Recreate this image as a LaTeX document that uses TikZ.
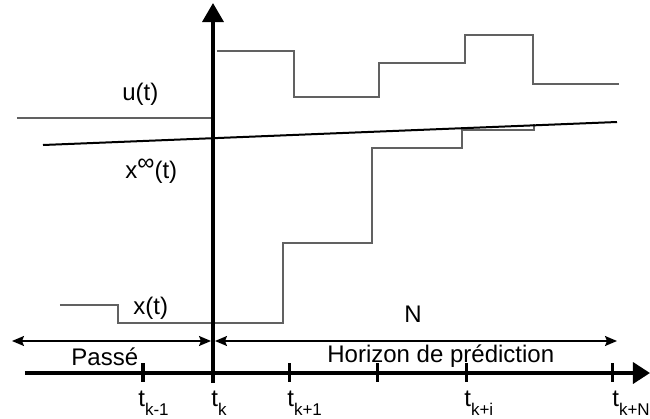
\documentclass[tikz,border=0pt]{standalone}
\usepackage{fontspec}
\setmainfont{Liberation Sans}
\usetikzlibrary{arrows.meta}
\newcommand\tsubx[1]{t\raisebox{-0.38em}{\fontsize{8.5}{9}\selectfont #1}}
\begin{document}
\begin{tikzpicture}[x=0.5pt,y=-0.5pt,
  axisline/.style={line width=1.75pt, black},
  tickmark/.style={line width=1.5pt, black},
  sig/.style={line width=0.6pt, black!62},
  refline/.style={line width=1pt, black},
  spanarrow/.style={line width=0.75pt, {Stealth[length=6pt,width=5pt,inset=1pt]}-{Stealth[length=6pt,width=5pt,inset=1pt]}},
  lbl/.style={font=\fontsize{12}{14}\selectfont, inner sep=0pt, anchor=base west},
]
\useasboundingbox (0,0) rectangle (650,419);

% signals
\draw[sig] (17,118) -- (213,118);
\draw[sig] (217,51) -- (294,51) -- (294,97) -- (379,97) -- (379,63) -- (465,63) -- (465,35) -- (533,35) -- (533,84) -- (619,84);
\draw[sig] (60,305) -- (118,305) -- (118,323) -- (283,323) -- (283,243) -- (372,243) -- (372,148) -- (462,148) -- (462,130) -- (534,130) -- (534,124);
\coordinate (xinfA) at (43,145);
\coordinate (xinfB) at (617,122);
\draw[refline] (xinfA) -- (xinfB);

% labels
\node[lbl] (ulbl) at (122,100) {u(t)};
\node[lbl] (xinflbl) at (125,178) {x\raisebox{0.3em}{∞}(t)};
\node[lbl] (xlbl) at (133,314) {x(t)};
\node[lbl] (nlbl) at (404,322) {N};
\node[lbl] (passe) at (71,365) {Passé};
\node[lbl] (horizon) at (327,362) {Horizon de prédiction};

% spans
\coordinate (pL) at (12,341);
\coordinate (pR) at (211,341);
\coordinate (hL) at (215,341);
\coordinate (hR) at (617,341);
\draw[spanarrow] (pL) -- (pR);
\draw[spanarrow] (hL) -- (hR);

% time axis
\coordinate (tl) at (25,373);
\coordinate (tr) at (650,373);
\draw[axisline, -{Triangle[width=10.5pt,length=8.5pt]}] (tl) -- (tr);
\foreach \x/\n in {143/a,290/c,378/d,467/e,613/f}{
  \coordinate (tk\n) at (\x,373);
  \draw[tickmark] ([yshift=5pt]tk\n) -- ([yshift=-4.5pt]tk\n);
}

% vertical axis
\coordinate (vb) at (213,383);
\coordinate (vt) at (213,3);
\draw[axisline, -{Triangle[width=10.5pt,length=9.5pt]}] (vb) -- (vt);

% tick labels
\node[lbl] (lkm1) at (138,406) {\tsubx{k-1}};
\node[lbl] (lk) at (211,406) {\tsubx{k}};
\node[lbl] (lkp1) at (287,406) {\tsubx{k+1}};
\node[lbl] (lki) at (464,406) {\tsubx{k+i}};
\node[lbl] (lkN) at (612,406) {\tsubx{k+N}};
\end{tikzpicture}
\end{document}
